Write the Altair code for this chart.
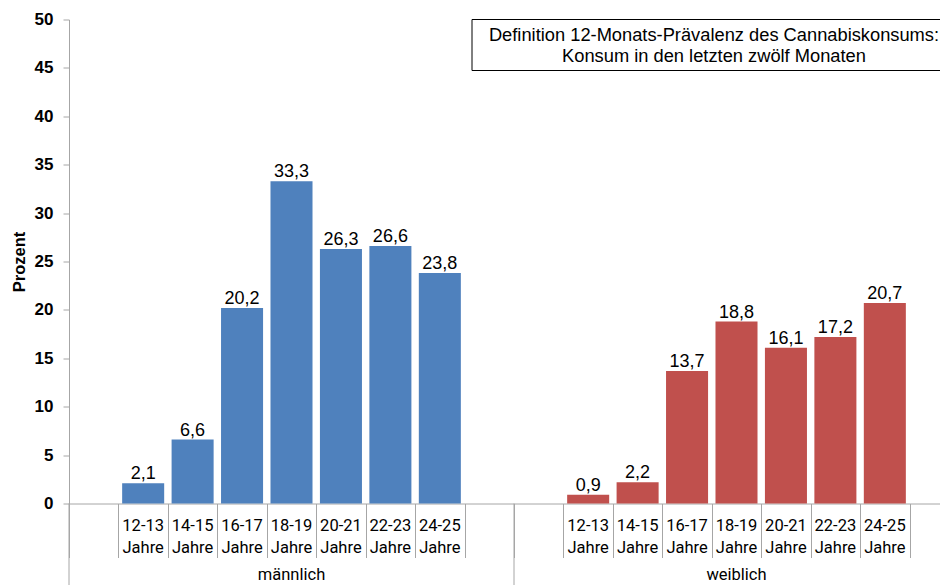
import altair as alt
import pandas as pd

# ---- data ----
age_groups = ["12-13", "14-15", "16-17", "18-19", "20-21", "22-23", "24-25"]
sexes = ["männlich", "weiblich"]
values_maennlich = [2.1, 6.6, 20.2, 33.3, 26.3, 26.6, 23.8]
values_weiblich = [0.9, 2.2, 13.7, 18.8, 16.1, 17.2, 20.7]
bar_colors = ["#4F81BD", "#C0504D"]
y_ticks = [0, 5, 10, 15, 20, 25, 30, 35, 40, 45, 50]
note_lines = ["Definition 12-Monats-Prävalenz des Cannabiskonsums:",
              "Konsum in den letzten zwölf Monaten"]
age_suffix = "Jahre"
y_title = "Prozent"

# ---- tables built from the arrays ----
slots = []
for s in sexes:
    slots.append(f"{s}|start")
    slots += [f"{s}|{a}" for a in age_groups]
    slots.append(f"{s}|end")

rows = []
for s, vals in zip(sexes, [values_maennlich, values_weiblich]):
    for a, v in zip(age_groups, vals):
        rows.append({"slot": f"{s}|{a}", "sex": s, "age": a, "value": v,
                     "label": f"{v:.1f}".replace(".", ","),
                     "agetext": f"{a}\n{age_suffix}"})
bars = pd.DataFrame(rows)

groups_df = pd.DataFrame({"slot": [f"{s}|18-19" for s in sexes], "text": sexes})
seps_df = pd.DataFrame({"slot": [f"{s}|start" for s in sexes]})
note_df = pd.DataFrame({"text": ["\n".join(note_lines)]})

W, H = 871, 484
GRAY = "#A6A6A6"

xscale = alt.Scale(domain=slots, range=[0, 890], paddingInner=0, paddingOuter=0)

base_x = alt.X("slot:N", scale=xscale, title=None,
               axis=alt.Axis(labels=False, ticks=True, tickBand="extent",
                             tickSize=54, tickColor=GRAY, domainColor=GRAY,
                             grid=False, title=None))

y_axis = alt.Axis(values=y_ticks, title=y_title, grid=False,
                  tickSize=6, tickColor=GRAY, domainColor=GRAY,
                  labelFont="Liberation Sans", labelFontSize=17,
                  labelFontWeight="bold", labelColor="black",
                  labelPadding=10, titleFont="Liberation Sans",
                  titleFontSize=16.5, titleFontWeight="bold",
                  titleColor="black", titlePadding=7)

bar_layer = alt.Chart(bars).mark_bar(width=alt.RelativeBandSize(0.85)).encode(
    x=base_x,
    y=alt.Y("value:Q", scale=alt.Scale(domain=[0, 50]), title=y_title, axis=y_axis),
    color=alt.Color("sex:N", scale=alt.Scale(domain=sexes, range=bar_colors),
                    legend=None),
)

value_layer = alt.Chart(bars).mark_text(
    baseline="alphabetic", dy=-4, fontSize=18, font="Liberation Sans",
    color="black").encode(
    x=alt.X("slot:N", title=None),
    y=alt.Y("value:Q", title=y_title),
    text="label:N",
)

age_layer = alt.Chart(bars).mark_text(
    baseline="middle", lineBreak="\n", lineHeight=22, fontSize=16.5,
    font="Roboto", color="black").encode(
    x=alt.X("slot:N", title=None),
    y=alt.value(H + 22.5),
    text="agetext:N",
)

group_layer = alt.Chart(groups_df).mark_text(
    baseline="middle", fontSize=16.5, font="Roboto", color="black").encode(
    x=alt.X("slot:N", title=None),
    y=alt.value(H + 71),
    text="text:N",
)

sep_layer = alt.Chart(seps_df).mark_rule(color=GRAY, strokeWidth=1).encode(
    x=alt.X("slot:N", title=None, bandPosition=0),
    y=alt.value(H),
    y2=alt.value(H + 90),
)

note_box = alt.Chart(pd.DataFrame({"k": [0]})).mark_rect(
    fill="white", strokeWidth=0).encode(
    x=alt.value(403), x2=alt.value(900), y=alt.value(0), y2=alt.value(51),
)
box_top = alt.Chart(pd.DataFrame({"k": [0]})).mark_rule(color="black").encode(
    x=alt.value(403), x2=alt.value(900), y=alt.value(0))
box_bottom = alt.Chart(pd.DataFrame({"k": [0]})).mark_rule(color="black").encode(
    x=alt.value(403), x2=alt.value(900), y=alt.value(51))
box_left = alt.Chart(pd.DataFrame({"k": [0]})).mark_rule(color="black").encode(
    x=alt.value(403), y=alt.value(0), y2=alt.value(51))

note_text = alt.Chart(note_df).mark_text(
    baseline="middle", align="center", lineBreak="\n", lineHeight=20.7,
    fontSize=18.3, font="Liberation Sans", color="black").encode(
    x=alt.value(645),
    y=alt.value(16.5),
    text="text:N",
)

chart = alt.layer(bar_layer, value_layer, age_layer, group_layer, sep_layer,
                  note_box, box_top, box_bottom, box_left, note_text).properties(
    width=W, height=H,
    autosize=alt.AutoSizeParams(type="none"),
    padding={"left": 61, "top": 11.5, "right": 0, "bottom": 81.5},
    background="white",
).configure_view(stroke=None)

chart.save("out.html", embed_options={"renderer": "svg", "actions": False})
